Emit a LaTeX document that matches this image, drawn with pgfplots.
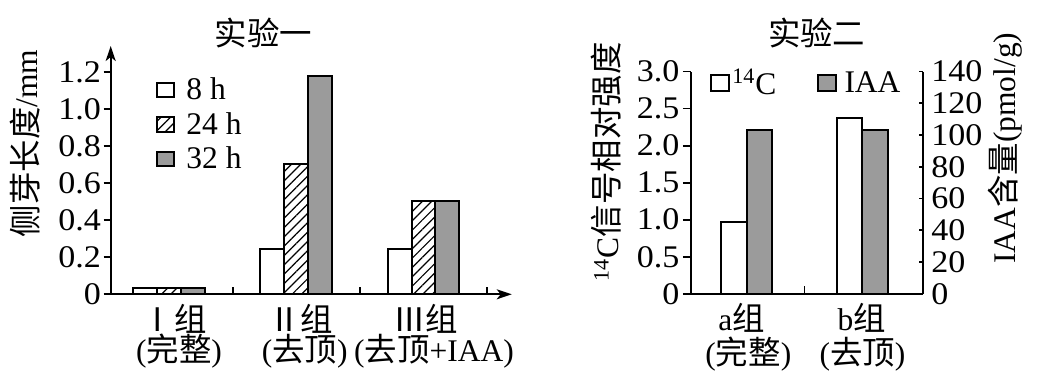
\documentclass[border=0pt]{standalone}
\usepackage{pgfplots}
\pgfplotsset{compat=1.18}
\usepackage{fontspec}
\setmainfont{Liberation Serif}
\newfontfamily\cjk{Noto Sans CJK SC}[Scale=1.03]
\newfontfamily\numfont{Liberation Serif}[FakeStretch=1.08]
\usetikzlibrary{arrows.meta,patterns.meta}
\definecolor{bargray}{RGB}{155,155,155}
\newcommand\fsz{\fontsize{15.75}{18}\selectfont}
\pgfplotsset{
  boxleg/.style={legend image code/.code={\draw[##1,line width=1pt] (0pt,-3.6pt) rectangle (8.5pt,3.6pt);}},
  boxlegb/.style={legend image code/.code={\draw[##1,line width=1pt] (0pt,-4pt) rectangle (9pt,4pt);}},
}
\begin{document}
\begin{tikzpicture}[font=\fsz]
\useasboundingbox (0pt,0pt) rectangle (521.5pt,190.5pt);

% ---------------- Experiment 1 ----------------
\begin{axis}[
  at={(55.35pt,43.35pt)}, anchor=south west,
  scale only axis, width=200.5pt, height=124.15pt,
  xmin=-0.458, xmax=2.693, ymin=0, ymax=1.342,
  axis x line=bottom, axis y line=left,
  axis line style={line width=1pt,-{Stealth[length=7.5pt,width=5pt,inset=2pt]}},
  xtick={0.5,1.5,2.5}, xticklabels={},
  ytick={0,0.2,0.4,0.6,0.8,1.0,1.2},
  yticklabels={0,0.2,0.4,0.6,0.8,1.0,1.2},
  tick align=outside, major tick length=3.5pt,
  tick style={line width=0.9pt,black},
  xtick style={yshift=3.5pt},
  tick label style={font=\fsz\numfont},
  yticklabel style={inner sep=1.2pt},
  clip=false,
  legend style={draw=none,fill=none,at={(0.113,0.874)},anchor=north west,
    inner sep=0pt,row sep=4.8pt,column sep=5.5pt,font=\fsz,nodes={inner sep=0pt}},
  legend cell align=left,
]
\addplot[ybar,bar width=0.188,bar shift=-0.188,fill=white,draw=black,line width=1pt,boxleg]
  coordinates {(0,0.035) (1,0.245) (2,0.245)};
\addplot[ybar,bar width=0.188,bar shift=0,fill=white,draw=black,line width=1pt,
  postaction={pattern={Lines[angle=45,distance=3.3pt,line width=0.6pt]}},boxleg]
  coordinates {(0,0.035) (1,0.705) (2,0.505)};
\addplot[ybar,bar width=0.188,bar shift=0.188,fill=bargray,draw=black,line width=1pt,boxleg]
  coordinates {(0,0.035) (1,1.18) (2,0.505)};
\legend{8 h,24 h,32 h}
\end{axis}

% ---------------- Experiment 2 ----------------
\begin{axis}[
  at={(345.25pt,43.6pt)}, anchor=south west,
  scale only axis, width=116.25pt, height=111.15pt,
  xmin=-0.483, xmax=1.522, ymin=0, ymax=3,
  axis x line=bottom, axis y line=left,
  axis line style={line width=1pt,-},
  xtick={0.5}, xticklabels={},
  ytick={0,0.5,1,1.5,2,2.5,3},
  yticklabels={0,0.5,1.0,1.5,2.0,2.5,3.0},
  tick align=outside, major tick length=3.85pt,
  tick style={line width=0.9pt,black},
  xtick style={yshift=3.85pt},
  tick label style={font=\fsz\numfont},
  yticklabel style={inner sep=1.5pt},
  clip=false,
]
\addplot[ybar,bar width=0.22,bar shift=-0.11,fill=white,draw=black,line width=1pt]
  coordinates {(0,0.97) (1,2.37)};
\end{axis}

\begin{axis}[
  at={(345.25pt,43.6pt)}, anchor=south west,
  scale only axis, width=116.25pt, height=111.15pt,
  xmin=-0.483, xmax=1.522, ymin=0, ymax=140,
  axis x line=none, axis y line=right,
  axis line style={line width=1pt,-},
  ytick={0,20,40,60,80,100,120,140},
  yticklabels={0,20,40,60,80,100,120,140},
  yticklabel pos=right,
  tick align=inside, major tick length=2.15pt,
  tick style={line width=0.9pt,black},
  tick label style={font=\fsz\numfont},
  yticklabel style={inner sep=1pt,xshift=3pt},
  clip=false,
  legend columns=2,
  legend style={draw=none,fill=none,at={(0.084,0.947)},anchor=west,
    inner sep=0pt,column sep=1pt,font=\fsz,nodes={inner sep=0pt},
    /tikz/every even column/.append style={column sep=20pt}},
  legend cell align=left,
]
\addlegendimage{fill=white,draw=black,boxlegb}
\addplot[ybar,bar width=0.22,bar shift=0.11,fill=bargray,draw=black,line width=1pt,boxlegb]
  coordinates {(0,103) (1,103)};
\legend{\textsuperscript{14}C,\hspace{3pt}IAA}
\end{axis}

% ---------------- Text ----------------
\begin{scope}[x=0.5pt,y=0.5pt]
\node at (263.5,348) {\cjk 实验一};
\node at (816.7,348) {\cjk 实验二};
\node[rotate=90] at (25.3,237.7) {{\cjk 侧芽长度}/mm};
\node[rotate=90] at (606.7,219.3) {\textsuperscript{14}C{\cjk 信号相对强度}};
\node[rotate=90] at (1005,232.7) {IAA{\cjk 含量}(pmol/g)};

\node at (174,62.5) {\cjk Ⅰ组};
\node at (179,29.5) {({\cjk 完整})};
\node at (300.7,62.5) {\cjk Ⅱ组};
\node at (304.7,29.5) {({\cjk 去顶})};
\node at (425.7,62.5) {\cjk Ⅲ组};
\node at (434,29.5) {({\cjk 去顶}+IAA)};

\node at (741.7,63) {a{\cjk 组}};
\node at (748.3,27) {({\cjk 完整})};
\node at (861.7,63) {b{\cjk 组}};
\node at (862.5,27) {({\cjk 去顶})};
\end{scope}
\end{tikzpicture}
\end{document}
